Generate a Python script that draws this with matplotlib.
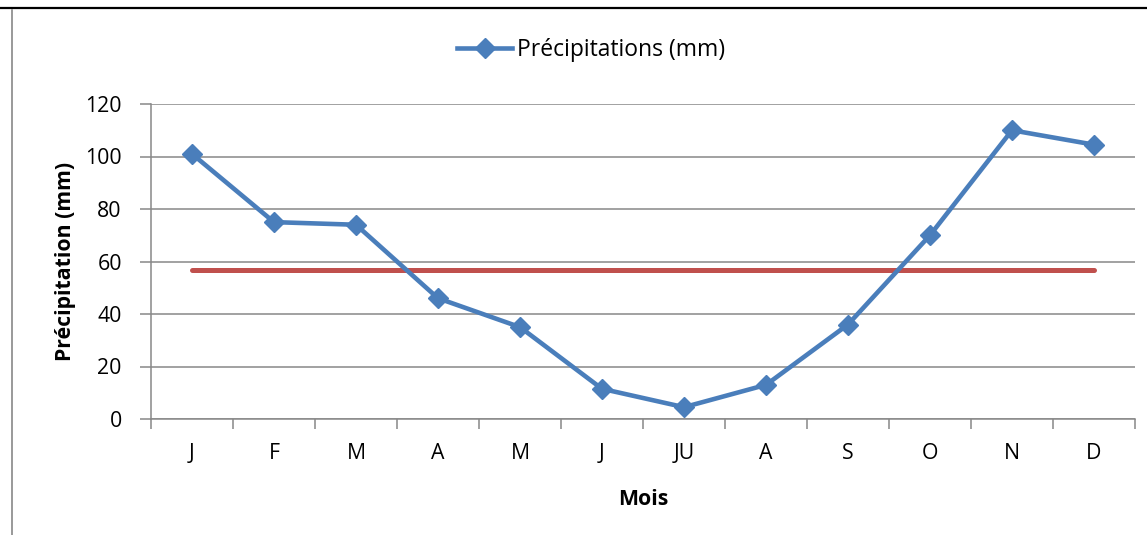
import matplotlib
matplotlib.use("Agg")
import matplotlib.pyplot as plt
from matplotlib.lines import Line2D

plt.rcParams['font.family'] = ['Open Sans', 'DejaVu Sans']

mois = ["J", "F", "M", "A", "M", "J", "JU", "A", "S", "O", "N", "D"]
precipitations = [101, 75, 74, 46, 35, 11.5, 4.5, 13, 36, 70, 110, 104.5]
moyenne = 56.7
yticks = [0, 20, 40, 60, 80, 100, 120]

W, H = 1147, 535
FS = 15.3
fig = plt.figure(figsize=(W / 100, H / 100), dpi=100)
ax = fig.add_axes([151 / W, 1 - 419 / H, (1135 - 151) / W, (419 - 104) / H])

x = list(range(len(mois)))
blue = "#4A7EBB"
red = "#C0504D"
grid = "#888888"

ax.plot([x[0], x[-1]], [moyenne, moyenne], color=red, lw=3.6,
        solid_capstyle="round", zorder=3)
ax.plot(x, precipitations, color=blue, lw=3.3, marker="D", markersize=10.5,
        markerfacecolor=blue, markeredgecolor=blue, zorder=4,
        solid_joinstyle="miter")

ax.set_xlim(-0.5, len(mois) - 0.5)
ax.set_ylim(0, 120)
ax.set_yticks(yticks)
ax.set_yticklabels([str(v) for v in yticks], fontsize=FS)
ax.yaxis.grid(True, color=grid, lw=1.1)
ax.set_axisbelow(True)

ax.set_xticks([i - 0.5 for i in range(len(mois) + 1)])
ax.set_xticklabels([])
ax.set_xticks(x, minor=True)
ax.set_xticklabels(mois, minor=True, fontsize=FS)
ax.tick_params(axis="x", which="major", length=7, width=1.1, color=grid, direction="out")
ax.tick_params(axis="x", which="minor", length=0, pad=17)
ax.tick_params(axis="y", length=8, width=1.1, color=grid, direction="out", pad=13)

for s in ["top", "right"]:
    ax.spines[s].set_visible(False)
for s in ["left", "bottom"]:
    ax.spines[s].set_color(grid)
    ax.spines[s].set_linewidth(1.1)

ax.set_ylabel("Précipitation (mm)", fontsize=FS, fontweight="bold")
ax.yaxis.label.set_va("center")
ax.yaxis.set_label_coords((65 - 151) / (1135 - 151), 0.5)
ax.set_xlabel("Mois", fontsize=FS, fontweight="bold")
ax.xaxis.label.set_va("center")
ax.xaxis.set_label_coords((643 - 151) / (1135 - 151), -(500 - 419) / (419 - 104))

handle = Line2D([], [], color=blue, lw=3.3, marker="D", markersize=10.5,
                markerfacecolor=blue, markeredgecolor=blue)
fig.legend([handle], ["Précipitations (mm)"], loc="center",
           bbox_to_anchor=(591 / W, 1 - 50 / H), frameon=False, fontsize=16.5,
           handlelength=2.4, handletextpad=0.2)

# frame remnants
fig.add_artist(Line2D([0, 1], [1 - 8 / H, 1 - 8 / H], transform=fig.transFigure,
                      color="black", lw=1.6))
fig.add_artist(Line2D([12 / W, 12 / W], [0, 1 - 10 / H], transform=fig.transFigure,
                      color=grid, lw=1.2))

fig.savefig("out.png", dpi=100)
